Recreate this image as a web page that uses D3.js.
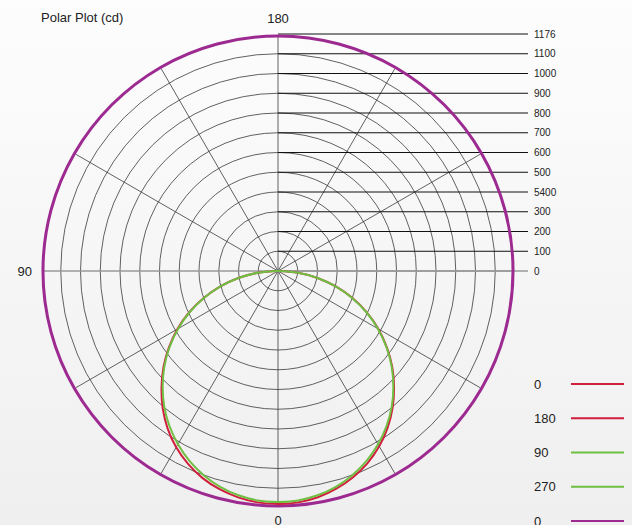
<!DOCTYPE html>
<html>
<head>
<meta charset="utf-8">
<script src="https://cdn.jsdelivr.net/npm/d3@7"></script>
<style>
  body { margin: 0; background: linear-gradient(#fdfdfd, #efefef); }
  svg { display: block; font-family: "Liberation Sans", Arial, sans-serif; }
</style>
</head>
<body>
<script>
// gamma angles (deg) for the C planes, 0 = straight down
let gammas = [0, 5, 10, 15, 20, 25, 30, 35, 40, 45, 50, 55, 60, 65, 70, 75, 80, 85, 90];

// intensity (cd)
let c0   = [1180, 1176, 1164, 1144, 1116, 1078, 1031, 974, 908, 834, 757, 674, 588, 497, 402, 304, 204, 102, 0];
let c180 = [1180, 1176, 1163, 1141, 1111, 1073, 1025, 968, 903, 831, 755, 672, 587, 496, 401, 303, 203, 102, 0];
let c90  = [1170, 1166, 1153, 1131, 1100, 1061, 1013, 958, 896, 826, 751, 670, 584, 494, 399, 302, 203, 102, 0];
let c270 = [1170, 1166, 1153, 1131, 1100, 1061, 1013, 958, 896, 826, 751, 670, 584, 494, 399, 302, 203, 102, 0];

// horizontal plane, all the way round
let hAngles = [0, 15, 30, 45, 60, 75, 90, 105, 120, 135, 150, 165, 180, 195, 210, 225, 240, 255, 270, 285, 300, 315, 330, 345];
let hValues = [1190, 1190, 1190, 1190, 1190, 1190, 1190, 1190, 1190, 1190, 1190, 1190, 1190, 1190, 1190, 1190, 1190, 1190, 1190, 1190, 1190, 1190, 1190, 1190];

let rings = [100, 200, 300, 400, 500, 600, 700, 800, 900, 1000, 1100];
let tickValues = [0, 100, 200, 300, 400, 500, 600, 700, 800, 900, 1000, 1100];
let tickLabels = ["0", "100", "200", "300", "5400", "500", "600", "700", "800", "900", "1000", "1100"];
let maxLabel = "1176";
let spokes = [0, 30, 60, 90, 120, 150, 180, 210, 240, 270, 300, 330];

let legendNames = ["0", "180", "90", "270", "0"];
let legendColors = ["#d01f3c", "#d01f3c", "#6fbf43", "#6fbf43", "#9c2a90"];

let width = 632, height = 525;
let cx = 278, cy = 271;

let svg = d3.select("body").append("svg")
  .attr("width", width)
  .attr("height", height);

// radius scale
let r = d3.scaleLinear().domain([0, 1200]).range([0, 237]);
let outer = r(1185);

let g = svg.append("g")
  .attr("transform", "translate(" + cx + "," + cy + ")");

// angle on screen: 0 bottom, 90 left, 180 top (clockwise)
function ang(deg) { return Math.PI + deg * Math.PI / 180; }

// rings
g.selectAll(".ring")
  .data(rings)
  .enter().append("circle")
  .attr("class", "ring")
  .attr("r", d => r(d))
  .attr("fill", "none")
  .attr("stroke", "#3a3a3a")
  .attr("stroke-width", 0.8);

// spokes
g.selectAll(".spoke")
  .data(spokes)
  .enter().append("line")
  .attr("class", "spoke")
  .attr("x1", 0).attr("y1", 0)
  .attr("x2", d => outer * Math.sin(ang(d)))
  .attr("y2", d => -outer * Math.cos(ang(d)))
  .attr("stroke", d => (d == 90 || d == 270) ? "#999" : "#3a3a3a")
  .attr("stroke-width", d => (d == 90 || d == 270) ? 1.5 : 0.8);

// value label lines on the right
let lineEnd = 528 - cx;
g.selectAll(".tickline")
  .data(tickValues)
  .enter().append("line")
  .attr("class", "tickline")
  .attr("x1", 0).attr("x2", lineEnd)
  .attr("y1", d => -r(d)).attr("y2", d => -r(d))
  .attr("stroke", d => d == 0 ? "#999" : "#111")
  .attr("stroke-width", d => d == 0 ? 1.5 : 1);

g.selectAll(".ticklabel")
  .data(tickValues)
  .enter().append("text")
  .attr("class", "ticklabel")
  .attr("x", lineEnd + 6)
  .attr("y", d => -r(d))
  .attr("dy", "0.35em")
  .attr("font-size", 10)
  .attr("fill", "#222")
  .text((d, i) => tickLabels[i]);

// top line for the max value
g.append("line")
  .attr("x1", 0).attr("x2", lineEnd)
  .attr("y1", -r.range()[1]).attr("y2", -r.range()[1])
  .attr("stroke", "#111");
g.append("text")
  .attr("x", lineEnd + 6)
  .attr("y", -r.range()[1])
  .attr("dy", "0.35em")
  .attr("font-size", 10)
  .attr("fill", "#222")
  .text(maxLabel);

// curves
let line = d3.lineRadial()
  .angle(d => ang(d[0]))
  .radius(d => r(d[1]))
  .curve(d3.curveCardinal);

let lineClosed = d3.lineRadial()
  .angle(d => ang(d[0]))
  .radius(d => r(d[1]))
  .curve(d3.curveCardinalClosed);

g.append("path")
  .datum(hAngles.map((a, i) => [a, hValues[i]]))
  .attr("d", lineClosed)
  .attr("fill", "none")
  .attr("stroke", legendColors[4])
  .attr("stroke-width", 3);

// C0 / C180 on left and right
let series = [
  { vals: c0,   side: 1,  color: legendColors[0] },
  { vals: c180, side: -1, color: legendColors[1] },
  { vals: c90,  side: 1,  color: legendColors[2] },
  { vals: c270, side: -1, color: legendColors[3] }
];

series.forEach(s => {
  g.append("path")
    .datum(gammas.map((gm, i) => [s.side * gm, s.vals[i]]))
    .attr("d", line)
    .attr("fill", "none")
    .attr("stroke", s.color)
    .attr("stroke-width", 2);
});

// angle labels
g.append("text").attr("x", 0).attr("y", -248).attr("text-anchor", "middle")
  .attr("font-size", 13).attr("fill", "#222").text("180");
g.append("text").attr("x", 0).attr("y", 254).attr("text-anchor", "middle")
  .attr("font-size", 13).attr("fill", "#222").text("0");
g.append("text").attr("x", -246).attr("y", 0).attr("dy", "0.35em").attr("text-anchor", "end")
  .attr("font-size", 13).attr("fill", "#222").text("90");

// title
svg.append("text")
  .attr("x", 41).attr("y", 22)
  .attr("font-size", 13)
  .attr("fill", "#222")
  .text("Polar Plot (cd)");

// legend
let legend = svg.append("g");
let ly = d3.scalePoint().domain(d3.range(legendNames.length)).range([384, 521]);

legend.selectAll("text")
  .data(legendNames)
  .enter().append("text")
  .attr("x", 534)
  .attr("y", (d, i) => ly(i))
  .attr("dy", "0.35em")
  .attr("font-size", 13)
  .attr("fill", "#222")
  .text(d => d);

legend.selectAll("line")
  .data(legendColors)
  .enter().append("line")
  .attr("x1", 571).attr("x2", 624)
  .attr("y1", (d, i) => ly(i)).attr("y2", (d, i) => ly(i))
  .attr("stroke", d => d)
  .attr("stroke-width", 2);
</script>
</body>
</html>
